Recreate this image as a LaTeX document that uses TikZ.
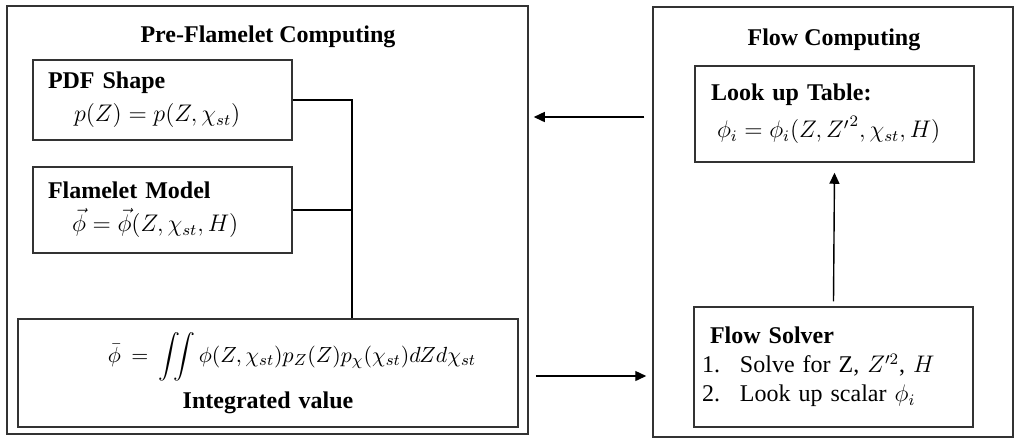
\documentclass[tikz,border=0pt]{standalone}
\usepackage{amsmath}
\usepackage{fontspec}
\setmainfont{Liberation Serif}
\usetikzlibrary{calc,arrows.meta}

\begin{document}
\begin{tikzpicture}[x=0.5pt, y=-0.5pt, font=\fontsize{12pt}{14.5pt}\selectfont,
        frame/.style = {draw=black!80, line width=0.75pt},
        box/.style = {frame, align=left, inner xsep=7.5pt, inner ysep=0pt},
        title/.style = {font=\fontsize{12pt}{14.5pt}\selectfont\bfseries},
        link/.style = {line width=0.6pt},
        arr/.style = {line width=0.7pt, -{Triangle[length=5.5pt,width=5pt]}}]
        \useasboundingbox (0,0) rectangle (1024,447);

        \node[frame, minimum width=260.5pt, minimum height=214pt] (pre) at (267.5,220) {};
        \node[frame, minimum width=180pt, minimum height=215pt] (flow) at (833,222) {};
        \node[title] (pretitle) at (268,37) {Pre-Flamelet Computing};
        \node[title] (flowtitle) at (834,40) {Flow Computing};

        \node[box, text width=114.5pt, minimum height=40pt] (pdf) at (162.5,100)
            {\textbf{PDF Shape}\\[2pt] \hspace*{13pt}$p(Z) = p(Z,\chi_{st})$};
        \node[box, text width=114.5pt, minimum height=43pt] (flamelet) at (162.5,210)
            {\textbf{Flamelet Model}\\[2pt] \hspace*{12pt}$\vec{\phi} = \vec{\phi}(Z,\chi_{st},H)$};
        \node[box, align=center, inner xsep=4pt, text width=242pt, minimum height=54pt] (integ) at (268,373)
            {\hspace*{24pt}{\fontsize{10.95pt}{14pt}\selectfont$\displaystyle \bar{\phi} = \int\!\!\!\int \phi(Z,\chi_{st})p_Z(Z)p_\chi(\chi_{st})dZd\chi_{st}$}\\[4pt] \textbf{Integrated value}};

        \node[box, inner xsep=8pt, text width=123.5pt, minimum height=48pt] (lookup) at (834.5,114)
            {\textbf{Look up Table:}\\[4pt] \hspace*{3pt}$\phi_i = \phi_i(Z,{Z'}^2,\chi_{st},H)$};
        \node[box, inner xsep=4pt, text width=131.5pt, minimum height=60pt] (solver) at (833.5,367)
            {\hspace*{4pt}\textbf{Flow Solver}\\
             \makebox[19pt][l]{1.}Solve for Z, $Z'^2$, $H$\\
             \makebox[19pt][l]{2.}Look up scalar $\phi_i$};

        \coordinate (bus) at (352,0);
        \draw[link] (pdf.east) -| (bus |- integ.north);
        \draw[link] (flamelet.east) -- (flamelet.east -| bus);

        \draw[arr] ($(solver.north)+(0,-5)$) -- ($(lookup.south)+(0,10)$);
        \draw[arr] ($(flow.west |- lookup)+(-8,3)$) -- ($(pre.east |- lookup)+(5,3)$);
        \draw[arr] ($(pre.east |- integ)+(7,3)$) -- ($(flow.west |- integ)+(-6,3)$);
\end{tikzpicture}
\end{document}
